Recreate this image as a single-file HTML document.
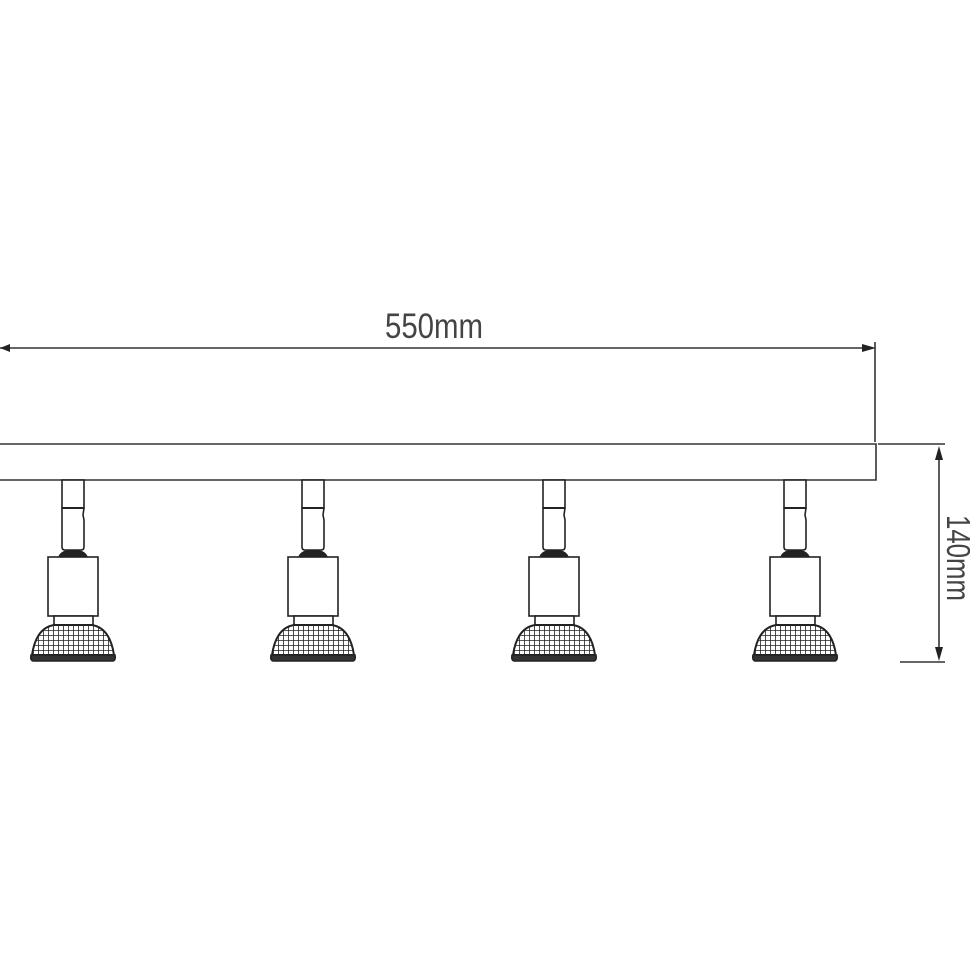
<!DOCTYPE html>
<html><head><style>html,body{margin:0;padding:0;background:#fff}svg{display:block}</style></head>
<body>
<svg width="970" height="971" viewBox="0 0 970 971" xmlns="http://www.w3.org/2000/svg">
<defs>
<pattern id="grid" width="5" height="5" patternUnits="userSpaceOnUse">
<rect width="5" height="5" fill="#fff"/>
<path d="M0 0H5M0 0V5" stroke="#222" stroke-width="1.6"/>
</pattern>
<clipPath id="domeclip"><path d="M-19 625 L19 625 Q37 628 41 655 L-41 655 Q-37 628 -19 625 Z"/></clipPath>
<g id="lamp" fill="none" stroke="#222" stroke-width="1.6">
<rect x="-11" y="480" width="22" height="28" fill="#fff"/>
<path d="M-11 508 V547 Q-11 550 -8 550 H8 Q11 550 11 547 V520 L10 515 L11 508" fill="#fff"/>
<path d="M-11 508 H11" stroke-width="2"/>
<path d="M-14 557 Q-12 552 -6 551 H6 Q12 552 14 557 Z" fill="#222"/>
<rect x="-25" y="557" width="50" height="59" fill="#fff"/>
<rect x="-19" y="616" width="39" height="9" fill="#fff"/>
<g clip-path="url(#domeclip)"><rect x="-45" y="622" width="90" height="36" fill="url(#grid)"/></g>
<path d="M-19 625 L19 625 Q37 628 41 655 L-41 655 Q-37 628 -19 625 Z" stroke-width="2"/>
<path d="M-42 655 H42 Q43 660 40 661 H-40 Q-43 660 -42 655 Z" fill="#333"/>
</g>
</defs>
<g stroke="#333" stroke-width="1.6" fill="none">
<path d="M0 444 H876 V480 H0"/>
<path d="M0 348 H870"/>
<path d="M875 342 V442"/>
<path d="M878 444 H945"/>
<path d="M900 662 H945"/>
<path d="M939 450 V656"/>
</g>
<path d="M876 348 L862 344 L862 352 Z" fill="#222"/>
<path d="M0 348 L10 344 L10 352 Z" fill="#222"/>
<path d="M939 446 L935 460 L943 460 Z" fill="#222"/>
<path d="M939 661 L935 647 L943 647 Z" fill="#222"/>
<use href="#lamp" x="73"/>
<use href="#lamp" x="313"/>
<use href="#lamp" x="554"/>
<use href="#lamp" x="795"/>
<text x="385" y="338" font-family="Liberation Sans, sans-serif" font-size="35" fill="#444" textLength="98" lengthAdjust="spacingAndGlyphs">550mm</text>
<text transform="translate(947,515) rotate(90)" font-family="Liberation Sans, sans-serif" font-size="33" fill="#444" textLength="86" lengthAdjust="spacingAndGlyphs">140mm</text>
</svg>
</body></html>
